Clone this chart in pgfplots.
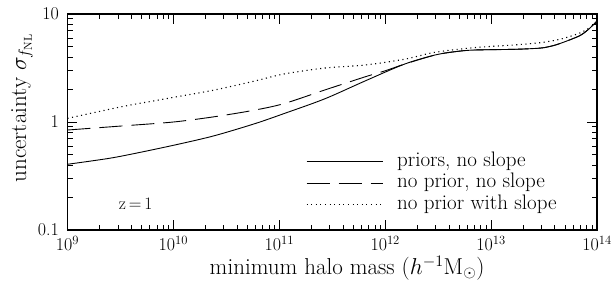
\RequirePackage{fix-cm}
\documentclass[border=0pt]{standalone}
\usepackage{pgfplots}
\pgfplotsset{compat=1.18}
\begin{document}
\begin{tikzpicture}
\useasboundingbox (-67.5pt,-52pt) rectangle (548.5pt,230pt);
\begin{axis}[
  at={(0pt,0pt)}, anchor=south west,
  scale only axis, width=529.5pt, height=216pt,
  xmode=log, ymode=log,
  xmin=1e9, xmax=1e14, ymin=0.1, ymax=10,
  axis line style={line width=1.3pt},
  tick style={line width=0.9pt, black},
  major tick length=10pt, minor tick length=5pt,
  tick align=inside,
  xtick={1e9,1e10,1e11,1e12,1e13,1e14},
  xticklabels={$10^{9}$,$10^{10}$,$10^{11}$,$10^{12}$,$10^{13}$,$10^{14}$},
  ytick={0.1,1,10},
  yticklabels={0.1,1,10},
  tick label style={font=\fontsize{18}{20}\selectfont},
  xticklabel style={yshift=-2.5pt},
  yticklabel style={xshift=-5pt},
  every axis x label/.style={at={(axis description cs:0.528,-0.176)}, anchor=center, font=\fontsize{23}{26}\selectfont},
  every axis y label/.style={at={(axis description cs:-0.086,0.565)}, rotate=90, anchor=center, font=\fontsize{23}{26}\selectfont},
  xlabel={minimum halo mass ($h^{-1}$M$_\odot$)},
  ylabel={uncertainty $\sigma_{f_{\rm NL}}$},
  legend style={draw=none, fill=none, at={(rel axis cs:0.450,0.366)}, anchor=north west,
    font=\fontsize{21}{22}\selectfont, inner sep=0pt, row sep=0pt,
    nodes={inner sep=0pt, text height=15pt, text depth=6.5pt},
    /tikz/every odd column/.append style={column sep=14pt}},
  legend cell align=left,
  legend image code/.code={\draw[#1] (0pt,0pt) -- (76pt,0pt);},
]
\addplot[black, line width=0.9pt, smooth] coordinates {
(1e9,0.406) (2.512e9,0.462) (5.01e9,0.527) (1.148e10,0.627) (2.455e10,0.748)
(5.89e10,0.966) (1.122e11,1.202) (2.69e11,1.64) (6.46e11,2.40) (1.514e12,3.43)
(2.95e12,4.17) (4.57e12,4.48) (6.92e12,4.64) (1.66e13,4.71) (2.88e13,4.83)
(3.63e13,5.02) (4.47e13,5.33) (6.76e13,6.25) (8.3e13,7.2) (1e14,8.6)
};
\addlegendentry{priors, no slope}
\addplot[black, line width=0.9pt, smooth, dash pattern=on 23pt off 9pt] coordinates {
(1e9,0.843) (3.31e9,0.92) (1e10,1.0) (2.455e10,1.12) (5.89e10,1.29) (1.122e11,1.486)
(2.69e11,1.98) (6.46e11,2.62) (1e12,2.98) (1.514e12,3.43)
(2.95e12,4.17) (4.57e12,4.48) (6.92e12,4.64) (1.66e13,4.71) (2.88e13,4.83)
(3.63e13,5.02) (4.47e13,5.33) (6.76e13,6.25) (8.3e13,7.2) (1e14,8.6)
};
\addlegendentry{no prior, no slope}
\addplot[black, line width=1.1pt, smooth, dash pattern=on 1.1pt off 3.5pt] coordinates {
(1e9,1.08) (3.31e9,1.39) (1e10,1.69) (2.455e10,1.98) (5.89e10,2.40) (1.122e11,2.79)
(2.69e11,3.16) (6.46e11,3.37) (1.514e12,3.81) (2.95e12,4.42) (6.92e12,4.88)
(1.66e13,5.17) (2.88e13,5.42) (4.47e13,5.83) (6.76e13,6.62) (8.3e13,7.35) (1e14,8.34)
};
\addlegendentry{no prior with slope}
\node[font=\fontsize{17.5}{20}\selectfont] at (axis cs:4.4e9,0.175) {z$\,$=$\,$1};
\end{axis}
\end{tikzpicture}
\end{document}
